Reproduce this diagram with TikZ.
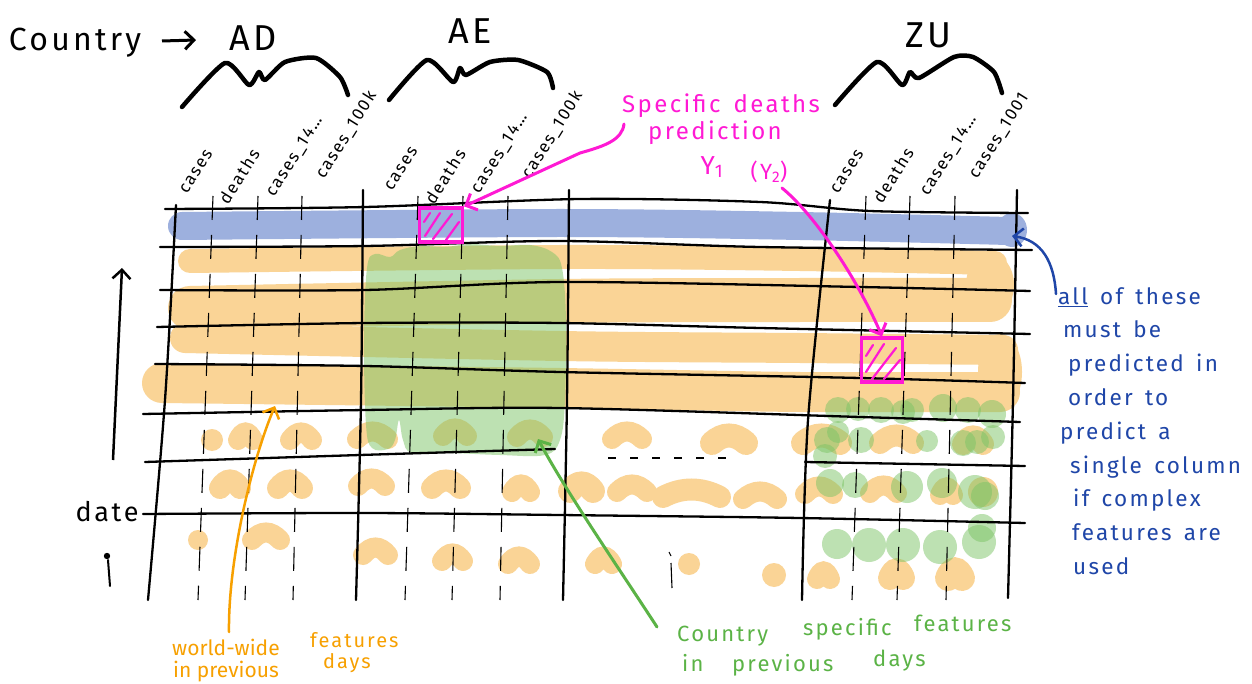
\documentclass[tikz,border=0pt]{standalone}
\usepackage{fontspec}
\setmainfont{Fira Sans}
\newfontfamily\hand{Fira Sans}[LetterSpace=10, WordSpace=1.5]
\usetikzlibrary{arrows.meta}
\definecolor{org}{HTML}{FAD496}
\definecolor{blu}{HTML}{9DB0DE}
\definecolor{grn}{HTML}{7CC466}
\definecolor{mag}{HTML}{FF19D4}
\definecolor{dblue}{HTML}{1F46A8}
\definecolor{otext}{HTML}{F7A000}
\definecolor{gtext}{HTML}{5BB346}
\newcommand{\fsz}[1]{\fontsize{#1}{#1}\selectfont}
\newcommand{\bean}[4][20]{\draw[org, line width=#1pt, line cap=round] ({#2},{#4+3}) .. controls ({#2+(#3-#2)/3},{#4-7}) and ({#2+2*(#3-#2)/3},{#4-7}) .. ({#3},{#4+3});}
\begin{document}
\begin{tikzpicture}[x=1pt,y=-1pt,
  gline/.style={line width=2.3pt, line cap=round, line join=round},
  dline/.style={line width=1.1pt, dash pattern=on 24pt off 15pt},
  tipb/.style={-{Straight Barb[length=9pt,width=18pt]}},
  lab/.style={font=\hand\fsz{17}, rotate=58, anchor=base west, inner sep=0pt},
  pbox/.style={draw=mag, line width=3.2pt, inner sep=0pt},
  otx/.style={otext, font=\fsz{21}, anchor=base west, inner sep=0pt},
  gtx/.style={gtext, font=\hand\fsz{22}, anchor=base west, inner sep=0pt},
  gdot/.style={grn, opacity=0.5}]
\useasboundingbox (0,0) rectangle (1252,684);
\fill[white] (0,0) rectangle (1252,684);

% ---------- orange highlights ----------
\draw[org, line width=24pt, line cap=round] plot[smooth] coordinates {(190,261) (560,257) (800,259) (995,263)};
\draw[org, line width=44pt, line cap=round] plot[smooth] coordinates {(190,308) (560,301) (800,300) (990,300)};
\draw[org, line width=30pt, line cap=round] plot[smooth] coordinates {(185,338) (560,346) (800,348) (1003,350)};
\draw[org, line width=40pt, line cap=round] plot[smooth] coordinates {(162,383) (560,388) (800,392) (1000,392)};
\fill[org] (990,285) ellipse (24 and 32);
\fill[org] (1000,372) ellipse (22 and 38);
% blue band
\draw[blu, line width=28pt, line cap=round] plot[smooth] coordinates {(182,226) (560,223) (800,226) (1008,231)};
\fill[blu] (1012,230) ellipse (15 and 17);

% beans, row A
\fill[org] (212,440) circle (11);
\bean{238}{253}{437}\bean{290}{312}{437}\bean{357}{388}{436}\bean{443}{467}{433}
\bean{517}{543}{434}\bean{612}{642}{436}\bean[24]{712}{746}{440}\bean[24]{803}{840}{440}
\bean[22]{880}{913}{440}\bean[22]{963}{983}{441}
% beans, row B
\bean[22]{220}{240}{485}\bean[22]{278}{302}{485}\bean{358}{385}{483}\bean[22]{432}{460}{485}
\bean{512}{530}{489}\bean[24]{570}{593}{488}\bean{617}{647}{489}\bean[22]{663}{720}{494}
\bean{743}{777}{496}\bean{805}{833}{491}\bean{870}{897}{490}\bean{940}{953}{492}
\fill[org] (983,492) circle (15);
% beans, row C
\fill[org] (198,540) circle (10);
\bean{252}{280}{537}\bean{363}{388}{552}\bean{442}{463}{558}\bean{508}{530}{561}
\bean{595}{612}{561}
\fill[org] (689,564) circle (11);
\fill[org] (774,575) circle (12);
\bean{817}{830}{576}\bean[24]{890}{903}{575}\bean[26]{948}{962}{575}

% ---------- green highlights ----------
\fill[gdot] plot[smooth cycle, tension=0.6] coordinates {(367,268) (375,254) (390,257) (400,250) (420,246) (445,247) (470,244) (500,246) (530,245) (552,252) (562,268) (566,320) (565,400) (560,440) (545,455) (500,455) (450,453) (412,453) (403,440) (399,420) (395,440) (388,449) (372,448) (366,425) (364,340)};
\foreach \x/\y/\r in {838/410/13, 858/409/12, 881/410/13, 903/412/12, 912/410/12, 943/408/14, 968/410/13, 992/414/14,
  827/440/13, 838/432/11, 861/440/13, 927/441/11, 963/443/13, 977/442/12, 993/437/12, 825/456/12,
  830/483/14, 855/485/13, 907/487/16, 942/483/15, 975/492/17, 985/496/14,
  837/544/15, 869/545/17, 903/545/17, 940/547/17, 979/542/17, 982/528/14}
  \fill[gdot] (\x,\y) circle (\r);

% ---------- grid: dividers ----------
\foreach \a/\b in {213/198, 258/245, 302/293, 418/405, 463/452, 508/500, 866/852, 910/897, 955/946}
  \draw[dline] (\a,196) -- (\b,600);
\draw[line width=1.1pt] (669,552) -- (671,556) (671,563) -- (672,588);
\draw[line width=1.5pt, dash pattern=on 8pt off 14pt] (608,458) -- (732,458);

% ---------- grid: thick lines ----------
\draw[gline] plot[smooth] coordinates {(176,205) (165,400) (148,600)};
\draw[gline] plot[smooth] coordinates {(363,190) (361,400) (356,600)};
\draw[gline] plot[smooth] coordinates {(569,190) (567,400) (563,600)};
\draw[gline] plot[smooth] coordinates {(830,200) (808,420) (802,600)};
\draw[gline] plot[smooth] coordinates {(1017,190) (1013,400) (1008,598)};
\draw[gline] plot[smooth] coordinates {(165,209) (365,207) (580,199) (760,202) (870,211) (1028,213)};
\draw[gline] plot[smooth] coordinates {(160,247) (365,246) (560,241) (760,247) (1032,250)};
\draw[gline] plot[smooth] coordinates {(160,290) (365,290) (560,282) (860,287) (1030,291)};
\draw[gline] plot[smooth] coordinates {(157,327) (365,323) (560,323) (760,328) (1030,334)};
\draw[gline] plot[smooth] coordinates {(155,364) (365,366) (560,372) (860,378) (1025,383)};
\draw[gline] plot[smooth] coordinates {(143,414) (365,410) (560,408) (860,417) (1020,422)};
\draw[gline] plot[smooth] coordinates {(145,462) (360,455) (555,449)};
\draw[gline] plot[smooth] coordinates {(805,462) (1025,466)};
\draw[gline] plot[smooth] coordinates {(143,514) (365,513) (560,515) (800,518) (1025,523)};

% ---------- braces ----------
\draw[line width=4.5pt, line cap=round, line join=round] plot[smooth, tension=0.4] coordinates {(182,107) (225,63) (249,85) (259,72) (265,80) (285,62) (316,58) (340,77) (348,95)};
\draw[line width=4.5pt, line cap=round, line join=round] plot[smooth, tension=0.4] coordinates {(389,100) (427,60) (453,82) (460,68) (466,75) (490,62) (518,60) (547,72) (553,88)};
\draw[line width=4.5pt, line cap=round, line join=round] plot[smooth, tension=0.4] coordinates {(835,105) (877,62) (902,85) (910,72) (919,78) (954,57) (973,57) (994,72) (1002,93)};

% ---------- headings ----------
\node[font=\hand\fsz{32}, inner sep=0pt] (country) at (75,43) {Country};
\node[font=\hand\fsz{36}, inner sep=0pt] (ad) at (253,38) {AD};
\node[font=\hand\fsz{36}, inner sep=0pt] (ae) at (470,31) {AE};
\node[font=\hand\fsz{36}, inner sep=0pt] (zu) at (928,35) {ZU};
\coordinate (ca1) at (162,41);
\coordinate (ca2) at (196,40);
\draw[line width=3pt, tipb] (ca1) -- (ca2);

% column labels
\node[lab] (adc) at (187,195) {cases};
\node[lab] (add) at (228,206) {deaths};
\node[lab] (ad14) at (274,198) {cases\_14…};
\node[lab] (ad100) at (324,180) {cases\_100k};
\node[lab] (aec) at (392,192) {cases};
\node[lab] (aed) at (434,206) {deaths};
\node[lab] (ae14) at (479,195) {cases\_14…};
\node[lab] (ae100) at (530,180) {cases\_100k};
\node[lab] (zuc) at (838,195) {cases};
\node[lab] (zud) at (882,205) {deaths};
\node[lab] (zu14) at (928,197) {cases\_14…};
\node[lab] (zu100) at (977,180) {cases\_1001};

% ---------- magenta ----------
\node[pbox, minimum width=43pt, minimum height=34pt] (box1) at (441,225) {};
\node[pbox, minimum width=41pt, minimum height=44pt] (box2) at (882,360) {};
\draw[mag, line width=2.2pt, line cap=round] (425,236)--(440,213) (433,239)--(452,214) (446,240)--(459,222) (424,222)--(430,213);
\draw[mag, line width=2.2pt, line cap=round] (866,372)--(884,344) (872,379)--(896,348) (884,379)--(900,360) (866,356)--(873,345);
\node[mag, font=\hand\fsz{24}, inner sep=0pt] (spec) at (721,106) {Specific deaths};
\node[mag, font=\hand\fsz{24}, inner sep=0pt] (pred) at (715,133) {prediction};
\node[mag, font=\hand\fsz{26}, inner sep=0pt] (y1) at (712,167) {Y\textsubscript{1}};
\node[mag, font=\hand\fsz{22}, inner sep=0pt] (y2) at (769,172) {(Y\textsubscript{2})};
\coordinate (sd1) at (624,124);
\coordinate (y2s) at (782,188);
\draw[mag, line width=3pt, line cap=round, tipb] (sd1) .. controls (622,140) and (605,146) .. (580,153) -- (box1.north east);
\draw[mag, line width=3pt, line cap=round, tipb] (y2s) .. controls (815,215) and (858,280) .. (box2.north);

% ---------- blue note ----------
\node[dblue, font=\hand\fontsize{22.5}{33.8}\selectfont, align=left, anchor=north west, inner sep=0pt] (note) at (1058,287)
 {\underline{all} of these\\
  \hspace*{5pt}must be\\
  \hspace*{10pt}predicted in\\
  \hspace*{10pt}order to\\
  \hspace*{2pt}predict a\\
  \hspace*{12pt}single column\\
  \hspace*{15pt}if complex\\
  \hspace*{14pt}features are\\
  \hspace*{15pt}used};
\coordinate (allc) at (1056,294);
\coordinate (bluetip) at (1012,236);
\draw[dblue, line width=2.5pt, line cap=round, tipb] (allc) .. controls (1054,262) and (1042,240) .. (bluetip);

% ---------- date ----------
\node[font=\hand\fsz{27}, inner sep=0pt] (date) at (107,512) {date};
\coordinate (dt1) at (113,460);
\coordinate (dt2) at (122,268);
\draw[line width=2.5pt, tipb] (dt1) -- (dt2);
\draw[line width=2pt, line cap=round] (108,560) -- (110,586);
\fill (107,556) circle (3.2);

% ---------- orange note ----------
\node[otx] (ow1) at (172,655) {world-wide};
\node[otx, font=\hand\fsz{20}] (ow2) at (310,647) {features};
\node[otx] (ow3) at (173,677) {in previous};
\node[otx, font=\hand\fsz{20}] (ow4) at (323,668) {days};
\coordinate (oa1) at (229,632);
\coordinate (oa2) at (275,406);
\draw[otext, line width=2.5pt, line cap=round, tipb] (oa1) .. controls (228,560) and (252,460) .. (oa2);

% ---------- green note ----------
\node[gtx] (gw1) at (677,641) {Country};
\node[gtx] (gw2) at (803,635) {specific};
\node[gtx] (gw3) at (914,631) {features};
\node[gtx] (gw4) at (682,671) {in};
\node[gtx] (gw5) at (732,671) {previous};
\node[gtx] (gw6) at (873,666) {days};
\coordinate (ga1) at (657,627);
\coordinate (ga2) at (538,439);
\draw[gtext, line width=3pt, line cap=round, tipb] (ga1) .. controls (620,570) and (565,490) .. (ga2);
\end{tikzpicture}
\end{document}
